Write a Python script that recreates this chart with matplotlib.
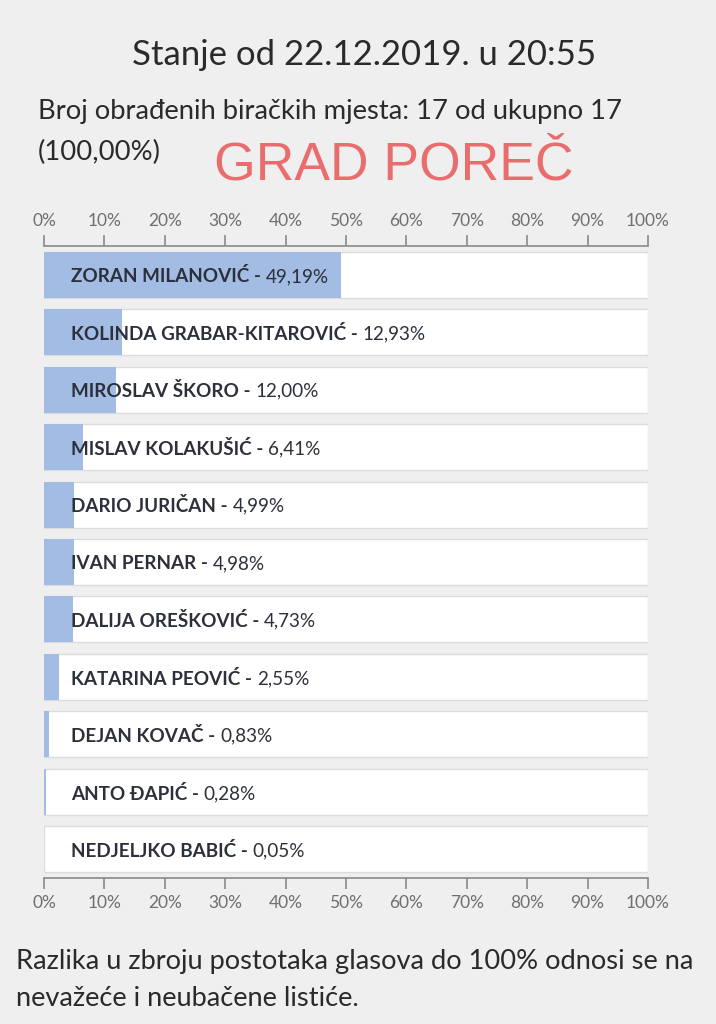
import matplotlib.pyplot as plt
from matplotlib.patches import Rectangle

names = ["ZORAN MILANOVIĆ", "KOLINDA GRABAR-KITAROVIĆ", "MIROSLAV ŠKORO",
         "MISLAV KOLAKUŠIĆ", "DARIO JURIČAN", "IVAN PERNAR", "DALIJA OREŠKOVIĆ",
         "KATARINA PEOVIĆ", "DEJAN KOVAČ", "ANTO ĐAPIĆ", "NEDJELJKO BABIĆ"]
values = [49.19, 12.93, 12.00, 6.41, 4.99, 4.98, 4.73, 2.55, 0.83, 0.28, 0.05]
value_labels = ["49,19%", "12,93%", "12,00%", "6,41%", "4,99%", "4,98%",
                "4,73%", "2,55%", "0,83%", "0,28%", "0,05%"]
ticks = list(range(0, 101, 10))
tick_labels = [f"{t}%" for t in ticks]

bg = "#efefef"
blue = "#a2bce3"
txt = "#2b303a"
grey = "#8a8a8a"
font = ["Lato", "DejaVu Sans"]

fig = plt.figure(figsize=(7.16, 10.24), dpi=100, facecolor=bg)
ax = fig.add_axes([44/716, 1 - 878/1024, 604/716, 632/1024])
ax.set_facecolor(bg)

n = len(names)
for i, v in enumerate(values):
    ax.add_patch(Rectangle((0, i - 0.4), 100, 0.8, facecolor="white",
                           edgecolor="#dcdcdc", lw=1, zorder=1))
    ax.barh(i, v, height=0.8, color=blue, zorder=2)

ax.set_xlim(0, 100)
ax.set_ylim(n - 0.5, -0.5)
ax.set_yticks([])
for s in ["left", "right"]:
    ax.spines[s].set_visible(False)
for s in ["top", "bottom"]:
    ax.spines[s].set_color(grey)
    ax.spines[s].set_linewidth(1.2)
ax.set_xticks(ticks)
ax.set_xticklabels(tick_labels)
ax.tick_params(axis="x", top=True, labeltop=True, bottom=True, labelbottom=True,
               length=8, width=1.2, color=grey, labelcolor="#6f6f6f",
               labelsize=12.5, pad=4)
for lbl in ax.get_xticklabels():
    lbl.set_family(font)

fig.canvas.draw()
r = fig.canvas.get_renderer()
name_texts = []
for i, name in enumerate(names):
    t = ax.text(4.5, i + 0.03, name + " - ", va="center", ha="left", fontsize=13.6,
                fontweight="bold", color=txt, family=font, zorder=3)
    name_texts.append(t)
fig.canvas.draw()
inv = ax.transData.inverted()
for i, t in enumerate(name_texts):
    bb = t.get_window_extent(renderer=r)
    x = inv.transform((bb.x1, 0))[0]
    ax.text(x, i + 0.03, value_labels[i], va="center", ha="left", fontsize=13.6,
            color=txt, family=font, zorder=3)

fig.text(364/716, 1 - 55/1024, "Stanje od 22.12.2019. u 20:55", ha="center",
         va="center", fontsize=25, color="#2a2a2a", family=font)
fig.text(38/716, 1 - 112/1024, "Broj obrađenih biračkih mjesta: 17 od ukupno 17",
         ha="left", va="center", fontsize=19.7, color="#2a2a2a", family=font)
fig.text(38/716, 1 - 152/1024, "(100,00%)", ha="left", va="center",
         fontsize=19.7, color="#2a2a2a", family=font)
fig.text(394/716, 1 - 165/1024, "GRAD POREČ", ha="center", va="center",
         fontsize=38.5, color="#ea6d6e", family=["Liberation Sans", "DejaVu Sans"])
fig.text(16/716, 1 - 962/1024,
         "Razlika u zbroju postotaka glasova do 100% odnosi se na",
         ha="left", va="center", fontsize=19.6, color="#2a2a2a", family=font)
fig.text(16/716, 1 - 998/1024, "nevažeće i neubačene listiće.",
         ha="left", va="center", fontsize=19.6, color="#2a2a2a", family=font)

fig.savefig("out.png", dpi=100, facecolor=bg)
